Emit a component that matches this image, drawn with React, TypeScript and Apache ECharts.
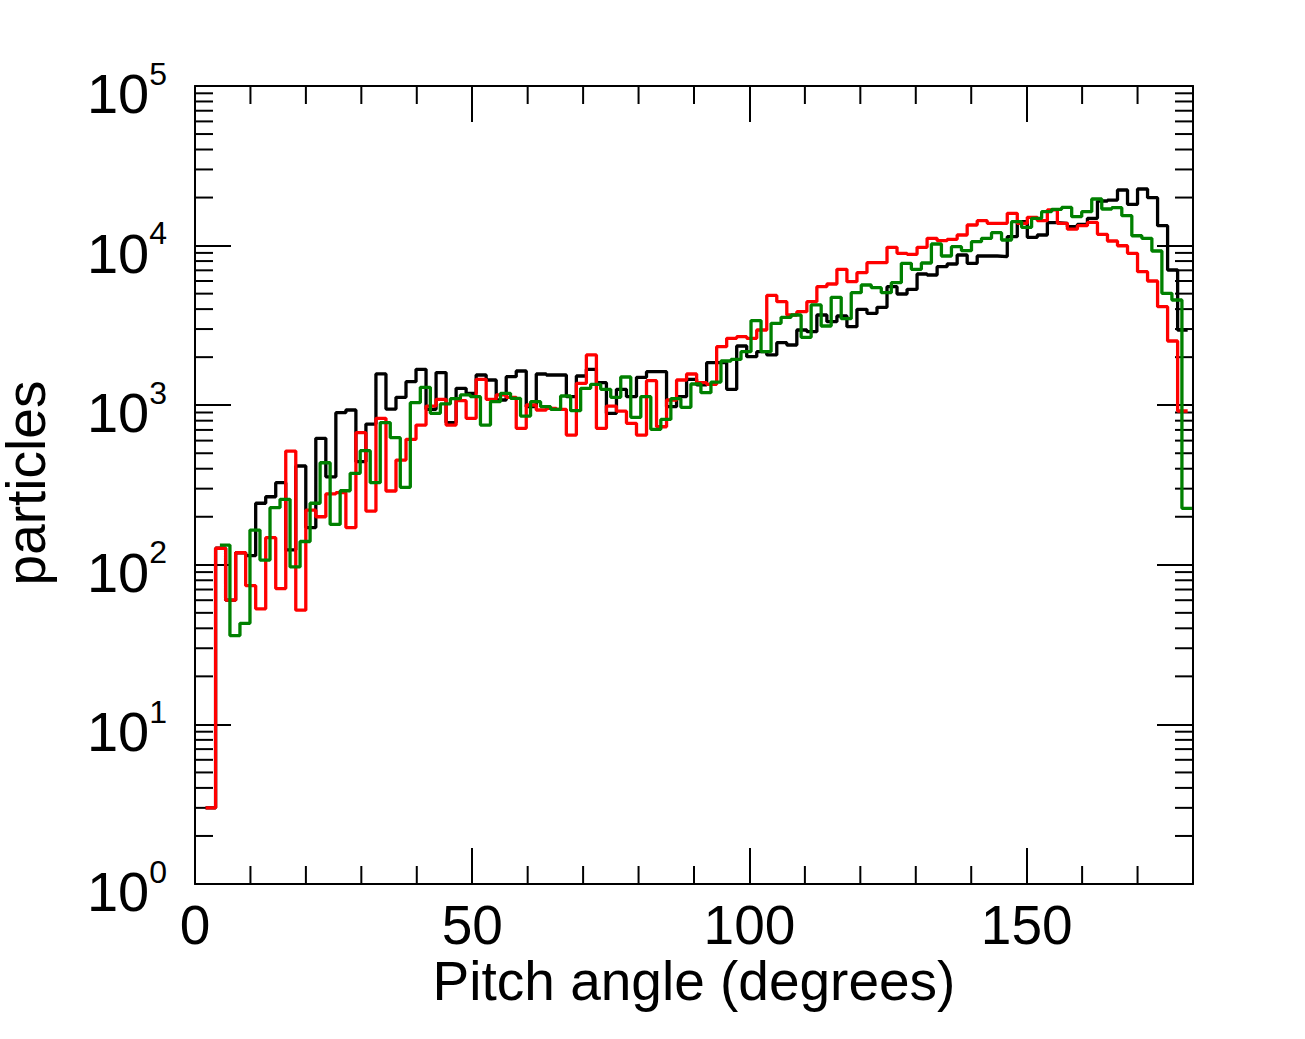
import React, { useEffect, useRef } from "react";
import * as echarts from "echarts";

// Histogram bin geometry (degrees)
const BIN_WIDTH = 1.8074;
const BLACK_START = 0.101;
const RED_START = 0.101;
const GREEN_START = 0.877;

const blackCounts: (number | null)[] = [
  null, 3, 127, 60, 119, 114, 243, 267, 327, 124,
  416, 171, 620, 356, 898, 933, 443, 762, 1570, 946,
  1120, 1404, 1679, 942, 1600, 778, 1276, 1187, 1546, 1438,
  1078, 1510, 1638, 979, 1568, 1546, 1546, 1131, 1524, 1679,
  1384, 889, 1258, 1131, 1495, 1623, 1623, 979, 1131, 1453,
  1339, 1848, 1848, 1257, 2350, 2014, 2164, 2064, 2465, 2384,
  2959, 2889, 3675, 3337, 3622, 3103, 3990, 3764, 4105, 5530,
  4975, 5324, 6637, 6545, 7380, 7670, 8730, 7747, 8608, 8608,
  8530, 11380, 14120, 11270, 11650, 13920, 13800, 13140, 13590, 14830,
  19030, 19300, 22300, 18140, 22630, 19960, 13330, 7035, 2959,
];

const redCounts: (number | null)[] = [
  null, 3, 127, 60, 119, 74, 53, 148, 71, 516,
  52, 220, 200, 278, 283, 171, 673, 217, 828, 290,
  453, 611, 751, 988, 1088, 751, 1067, 828, 1453, 1088,
  1159, 1120, 716, 1003, 933, 956, 942, 650, 1371, 2064,
  716, 988, 917, 770, 650, 1425, 733, 1078, 1438, 1568,
  1384, 1352, 2326, 2624, 2688, 2624, 2959, 4870, 4454, 3675,
  3855, 4454, 5530, 5745, 7101, 5940, 6764, 7818, 7818, 9750,
  8940, 8818, 9750, 11110, 10730, 10950, 11650, 13460, 14320, 13800,
  13800, 15930, 13800, 15040, 14320, 16720, 13800, 12680, 13330, 14000,
  11770, 10690, 9980, 8950, 6865, 5999, 4142, 2525, 920,
];

const greenCounts: (number | null)[] = [
  null, null, 133, 36, 43, 165, 107, 228, 257, 97,
  140, 243, 436, 179, 291, 374, 519, 327, 778, 626,
  306, 1037, 1294, 889, 1018, 1099, 1159, 1131, 751, 1052,
  1187, 1105, 855, 1052, 979, 942, 1142, 924, 1276, 1352,
  1258, 1120, 1502, 839, 1131, 706, 815, 1099, 970, 1358,
  1198, 1397, 1892, 1935, 2164, 3388, 2164, 3258, 3554, 3675,
  2663, 4246, 3135, 4744, 3483, 5070, 5663, 5450, 5070, 5857,
  7747, 7101, 7780, 10230, 8608, 9840, 9290, 10580, 11110, 12050,
  10840, 14120, 13020, 14830, 16320, 16880, 17340, 15170, 16320, 19590,
  16960, 17290, 15400, 11530, 11110, 9250, 5023, 4563, 226,
];

const xMajorTicks = [0, 50, 100, 150];
const xMinorTicks = [10, 20, 30, 40, 60, 70, 80, 90, 110, 120, 130, 140, 160, 170];
const yDecades = [1, 10, 100, 1000, 10000];
const yMinorMultipliers = [2, 3, 4, 5, 6, 7, 8, 9];

const X_MIN = 0;
const X_MAX = 180;
const Y_MIN = 1;
const Y_MAX = 100000;

const FONT = '"Liberation Sans", Arial, Helvetica, sans-serif';

function stepData(start: number, counts: (number | null)[]) {
  const pts: [number, number][] = [];
  let last = -1;
  counts.forEach((c, k) => {
    if (c != null) {
      pts.push([start + BIN_WIDTH * k, c]);
      last = k;
    }
  });
  if (last >= 0) pts.push([start + BIN_WIDTH * (last + 1), counts[last] as number]);
  return pts;
}

export default function App() {
  const ref = useRef<HTMLDivElement>(null);

  useEffect(() => {
    if (!ref.current) return;
    const chart = echarts.init(ref.current, undefined, { renderer: "svg" });

    const yMinorData: [number, number][] = [];
    yDecades.forEach((d) => yMinorMultipliers.forEach((m) => yMinorData.push([X_MIN, m * d])));
    const xMinorData: [number, number][] = xMinorTicks.map((x) => [x, Y_MIN]);

    const MAJOR = 36;
    const MINOR = 18;
    const tickStyle = { stroke: "#000", lineWidth: 2 };
    const SERIES_W = 3.3;

    const option: any = {
      animation: false,
      backgroundColor: "#fff",
      grid: { left: 195, right: 112, top: 86, bottom: 155, containLabel: false, outerBoundsMode: "none" },
      xAxis: [
        {
          type: "value",
          position: "bottom",
          min: X_MIN,
          max: X_MAX,
          interval: 50,
          axisLine: { show: true, onZero: false, lineStyle: { color: "#000", width: 2 } },
          axisTick: { show: true, inside: true, length: MAJOR, lineStyle: { color: "#000", width: 2 } },
          axisLabel: {
            show: true,
            showMaxLabel: false,
            margin: 13,
            color: "#000",
            fontSize: 55,
            fontFamily: FONT,
            formatter: (v: number) => (xMajorTicks.includes(v) ? String(v) : ""),
          },
          splitLine: { show: false },
        },
        {
          type: "value",
          position: "top",
          min: X_MIN,
          max: X_MAX,
          interval: 50,
          axisLine: { show: true, onZero: false, lineStyle: { color: "#000", width: 2 } },
          axisTick: { show: true, inside: true, length: MAJOR, lineStyle: { color: "#000", width: 2 } },
          axisLabel: { show: false },
          splitLine: { show: false },
        },
      ],
      yAxis: [
        {
          type: "log",
          logBase: 10,
          position: "left",
          min: Y_MIN,
          max: Y_MAX,
          axisLine: { show: true, onZero: false, lineStyle: { color: "#000", width: 2 } },
          axisTick: { show: true, inside: true, length: MAJOR, lineStyle: { color: "#000", width: 2 } },
          axisLabel: {
            show: true,
            margin: 28,
            color: "#000",
            padding: [15, 0, 0, 0],
            formatter: (v: number) => `{b|10}{s|${Math.round(Math.log10(v))}}`,
            rich: {
              b: { fontSize: 56, lineHeight: 72, fontFamily: FONT, color: "#000" },
              s: { fontSize: 32, lineHeight: 32, fontFamily: FONT, color: "#000", verticalAlign: "top" },
            },
          },
          splitLine: { show: false },
        },
        {
          type: "log",
          logBase: 10,
          position: "right",
          min: Y_MIN,
          max: Y_MAX,
          axisLine: { show: true, onZero: false, lineStyle: { color: "#000", width: 2 } },
          axisTick: { show: true, inside: true, length: MAJOR, lineStyle: { color: "#000", width: 2 } },
          axisLabel: { show: false },
          splitLine: { show: false },
        },
      ],
      graphic: [
        {
          type: "text",
          x: 694,
          y: 981,
          style: {
            text: "Pitch angle (degrees)",
            font: `55px ${FONT}`,
            fill: "#000",
            textAlign: "center",
            textVerticalAlign: "middle",
          },
        },
        {
          type: "text",
          x: 26,
          y: 483,
          rotation: Math.PI / 2,
          style: {
            text: "particles",
            font: `55px ${FONT}`,
            fill: "#000",
            textAlign: "center",
            textVerticalAlign: "middle",
          },
        },
      ],
      series: [
        {
          type: "custom",
          name: "yMinor",
          silent: true,
          xAxisIndex: 0,
          yAxisIndex: 0,
          data: yMinorData,
          encode: { x: 0, y: 1 },
          renderItem: (_p: any, api: any) => {
            const v = api.value(1);
            const l = api.coord([X_MIN, v]);
            const r = api.coord([X_MAX, v]);
            return {
              type: "group",
              children: [
                { type: "line", shape: { x1: l[0], y1: l[1], x2: l[0] + MINOR, y2: l[1] }, style: tickStyle },
                { type: "line", shape: { x1: r[0], y1: r[1], x2: r[0] - MINOR, y2: r[1] }, style: tickStyle },
              ],
            };
          },
        },
        {
          type: "custom",
          name: "xMinor",
          silent: true,
          xAxisIndex: 0,
          yAxisIndex: 0,
          data: xMinorData,
          encode: { x: 0, y: 1 },
          renderItem: (_p: any, api: any) => {
            const x = api.value(0);
            const b = api.coord([x, Y_MIN]);
            const t = api.coord([x, Y_MAX]);
            return {
              type: "group",
              children: [
                { type: "line", shape: { x1: b[0], y1: b[1], x2: b[0], y2: b[1] - MINOR }, style: tickStyle },
                { type: "line", shape: { x1: t[0], y1: t[1], x2: t[0], y2: t[1] + MINOR }, style: tickStyle },
              ],
            };
          },
        },
        {
          type: "line",
          name: "black",
          step: "end",
          showSymbol: false,
          symbol: "none",
          data: stepData(BLACK_START, blackCounts),
          lineStyle: { color: "#000000", width: SERIES_W },
          itemStyle: { color: "#000000" },
          z: 3,
        },
        {
          type: "line",
          name: "red",
          step: "end",
          showSymbol: false,
          symbol: "none",
          data: stepData(RED_START, redCounts),
          lineStyle: { color: "#ff0000", width: SERIES_W },
          itemStyle: { color: "#ff0000" },
          z: 4,
        },
        {
          type: "line",
          name: "green",
          step: "end",
          showSymbol: false,
          symbol: "none",
          data: stepData(GREEN_START, greenCounts),
          lineStyle: { color: "#008000", width: SERIES_W },
          itemStyle: { color: "#008000" },
          z: 5,
        },
      ],
    };

    chart.setOption(option);
    return () => chart.dispose();
  }, []);

  return (
    <div
      ref={ref}
      style={{ position: "absolute", left: 0, top: 0, width: 1305, height: 1039, background: "#fff" }}
    />
  );
}
